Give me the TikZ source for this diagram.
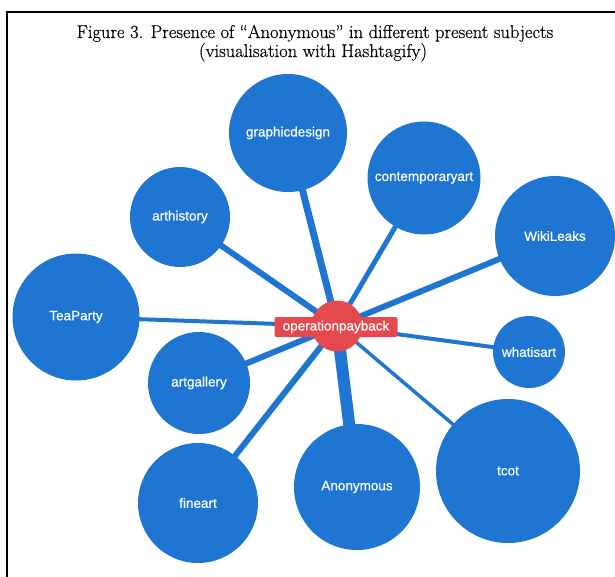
\documentclass[tikz,border=0pt]{standalone}
\usepackage{fontspec}
\newfontfamily\lblfont{Liberation Sans}[FakeBold=0.6]
\newfontfamily\ttlfont{Latin Modern Roman}[FakeBold=0.5]
\usetikzlibrary{backgrounds}
\definecolor{hubblue}{RGB}{31,118,210}
\definecolor{hubred}{RGB}{229,72,77}
\begin{document}
\begin{tikzpicture}[x=1pt,y=-1pt,
  topic/.style={circle,fill=hubblue,text=white,inner sep=0pt,font=\lblfont\fontsize{13.5}{15}\selectfont},
  hub/.style={circle,fill=hubred,inner sep=0pt,minimum size=51pt},
  hublabel/.style={rectangle,rounded corners=2pt,fill=hubred,text=white,inner sep=0pt,minimum width=123pt,minimum height=20pt,font=\lblfont\fontsize{13.5}{15}\selectfont},
  titletext/.style={anchor=base,inner sep=0pt,font=\ttlfont\fontsize{18.5}{20}\selectfont},
  link/.style={draw=hubblue,line cap=butt},
  frameline/.style={draw=black,line width=1.3pt}]
\useasboundingbox (0,0) rectangle (615,577);
\draw[frameline] (7,577) -- (7,12) -- (616,12);
\node[titletext] (title1) at (315,38) {Figure 3. Presence of “Anonymous” in different present subjects};
\node[titletext] (title2) at (313,57) {(visualisation with Hashtagify)};
% nodes
\node[hub] (hub) at (337,326) {};
\node[hublabel] (hubtext) at (336,327) {operationpayback};
\node[topic,minimum size=118pt] (graphicdesign) at (288,133) {graphicdesign};
\node[topic,minimum size=113pt] (contemporaryart) at (424,178) {contemporaryart};
\node[topic,minimum size=100pt] (arthistory) at (180,217) {arthistory};
\node[topic,minimum size=120pt] (wikileaks) at (555,236) {WikiLeaks};
\node[topic,minimum size=127pt] (teaparty) at (76,317) {TeaParty};
\node[topic,minimum size=72pt] (whatisart) at (529,352) {whatisart};
\node[topic,minimum size=102pt] (artgallery) at (199,383) {artgallery};
\node[topic,minimum size=144pt] (tcot) at (508,471) {tcot};
\node[topic,minimum size=126pt] (anonymous) at (357,487) {Anonymous};
\node[topic,minimum size=120pt] (fineart) at (198,503) {fineart};
% connectors
\begin{scope}[on background layer]
\draw[link,line width=7pt] (hub.center) -- (graphicdesign.center);
\draw[link,line width=5pt] (hub.center) -- (contemporaryart.center);
\draw[link,line width=6pt] (hub.center) -- (arthistory.center);
\draw[link,line width=6pt] (hub.center) -- (wikileaks.center);
\draw[link,line width=4pt] (hub.center) -- (teaparty.center);
\draw[link,line width=4pt] (hub.center) -- (whatisart.center);
\draw[link,line width=6pt] (hub.center) -- (artgallery.center);
\draw[link,line width=3.5pt] (hub.center) -- (tcot.center);
\draw[link,line width=12pt] (hub.center) -- (anonymous.center);
\draw[link,line width=6pt] (hub.center) -- (fineart.center);
\end{scope}
\end{tikzpicture}
\end{document}
